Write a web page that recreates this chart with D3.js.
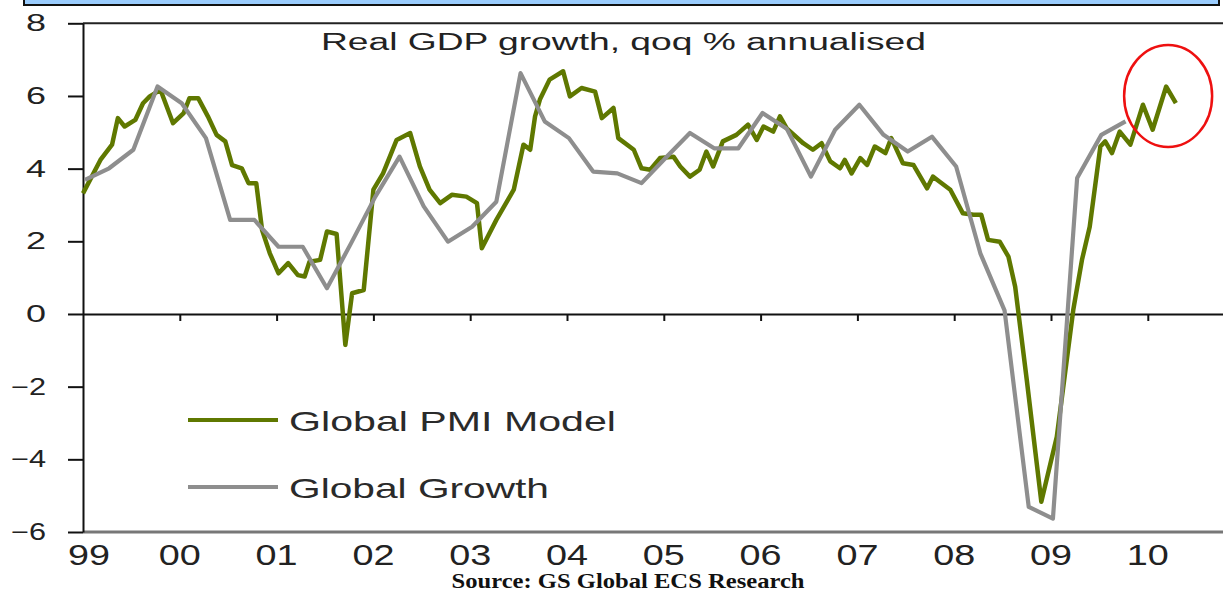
<!DOCTYPE html>
<html>
<head>
<meta charset="utf-8">
<script src="https://cdn.jsdelivr.net/npm/d3@7"></script>
<style>
  body { margin: 0; background: #fff; }
  svg { display: block; font-family: "Liberation Sans", Arial, sans-serif; }
</style>
</head>
<body>
<div id="chart"></div>
<script>

// Data

// Global PMI Model, monthly-ish vertices: decimal year / % qoq annualised
var pmiDates = [
  1999.00, 1999.18, 1999.30, 1999.36, 1999.43, 1999.54, 1999.62, 1999.69, 1999.80, 1999.93,
  2000.04, 2000.10, 2000.19, 2000.29, 2000.38, 2000.47, 2000.54, 2000.64, 2000.71, 2000.79,
  2000.85, 2000.93, 2001.02, 2001.12, 2001.22, 2001.29, 2001.34, 2001.45, 2001.52, 2001.62,
  2001.71, 2001.78, 2001.90, 2002.00, 2002.10, 2002.24, 2002.38, 2002.48, 2002.58, 2002.69,
  2002.81, 2002.96, 2003.07, 2003.12, 2003.27, 2003.45, 2003.55, 2003.62, 2003.67, 2003.72,
  2003.82, 2003.96, 2004.03, 2004.15, 2004.29, 2004.36, 2004.48, 2004.53, 2004.69, 2004.77,
  2004.86, 2004.96, 2005.10, 2005.17, 2005.27, 2005.37, 2005.44, 2005.51, 2005.61, 2005.75,
  2005.87, 2005.96, 2006.03, 2006.13, 2006.20, 2006.27, 2006.44, 2006.54, 2006.63, 2006.72,
  2006.82, 2006.87, 2006.94, 2007.03, 2007.10, 2007.18, 2007.29, 2007.35, 2007.47, 2007.58,
  2007.72, 2007.78, 2007.85, 2007.96, 2008.09, 2008.20, 2008.28, 2008.35, 2008.47, 2008.56,
  2008.63, 2008.75, 2008.90, 2009.06, 2009.23, 2009.32, 2009.40, 2009.51, 2009.56, 2009.63,
  2009.71, 2009.82, 2009.95, 2010.05, 2010.19, 2010.29
];
var pmiValues = [
  3.32, 4.24, 4.66, 5.39, 5.16, 5.34, 5.80, 5.99, 6.17, 5.25,
  5.53, 5.94, 5.94, 5.44, 4.93, 4.75, 4.10, 4.01, 3.60, 3.60,
  2.31, 1.67, 1.12, 1.40, 1.07, 1.03, 1.44, 1.49, 2.27, 2.20,
  -0.85, 0.57, 0.66, 3.42, 3.87, 4.79, 4.98, 4.06, 3.42, 3.05,
  3.28, 3.23, 3.05, 1.81, 2.59, 3.42, 4.66, 4.52, 5.44, 5.90,
  6.45, 6.68, 5.99, 6.22, 6.12, 5.39, 5.67, 4.84, 4.52, 4.01,
  3.97, 4.29, 4.33, 4.06, 3.78, 3.97, 4.47, 4.06, 4.75, 4.93,
  5.21, 4.79, 5.16, 5.02, 5.44, 5.11, 4.70, 4.52, 4.70, 4.20,
  4.01, 4.24, 3.87, 4.29, 4.10, 4.61, 4.43, 4.84, 4.15, 4.10,
  3.46, 3.78, 3.64, 3.42, 2.77, 2.73, 2.73, 2.04, 1.99, 1.58,
  0.75, -1.82, -5.17, -3.38, 0.11, 1.49, 2.40, 4.61, 4.75, 4.43,
  5.02, 4.66, 5.76, 5.07, 6.26, 5.80
];

// Global Growth, quarterly 1999Q1 .. 2009Q4
var growthValues = [
  3.69, 4.01, 4.52, 6.26,
  5.80, 4.84, 2.59, 2.59,
  1.85, 1.85, 0.71, 1.95,
  3.23, 4.33, 2.96, 1.99,
  2.40, 3.09, 6.63, 5.30,
  4.84, 3.92, 3.87, 3.60,
  4.30, 4.98, 4.56, 4.56,
  5.53, 5.10, 3.78, 5.07,
  5.76, 4.93, 4.47, 4.88,
  4.06, 1.67, 0.10, -5.31,
  -5.63, 3.74, 4.93, 5.30
];
var growthDates = growthValues.map(function(d, i) { return 1999.02 + i * 0.25; });

var yTicks = [-6, -4, -2, 0, 2, 4, 6, 8];
var yearTicks = [1999, 2000, 2001, 2002, 2003, 2004, 2005, 2006, 2007, 2008, 2009, 2010];
var yearLabels = ["99", "00", "01", "02", "03", "04", "05", "06", "07", "08", "09", "10"];

var seriesNames = ["Global PMI Model", "Global Growth"];
var seriesColors = ["#5f7800", "#8e8e8e"];

// Render chart

var width = 1223;
var height = 594;

var svg = d3.select("#chart").append("svg")
    .attr("width", width)
    .attr("height", height);

var x = d3.scaleLinear().domain([1999, 2011]).range([83, 1244.6]);
var y = d3.scaleLinear().domain([-6, 8]).range([532, 23.3]);

// header bar at the very top
svg.append("rect")
    .attr("x", 24).attr("y", -10)
    .attr("width", 1195).attr("height", 15)
    .attr("fill", "#9accfd")
    .attr("stroke", "#111").attr("stroke-width", 2);

// top frame line and bottom (-6) line
svg.append("line")
    .attr("x1", 83).attr("x2", width)
    .attr("y1", y(8)).attr("y2", y(8))
    .attr("stroke", "#222").attr("stroke-width", 2);

svg.append("line")
    .attr("x1", 83).attr("x2", width)
    .attr("y1", y(-6)).attr("y2", y(-6))
    .attr("stroke", "#777").attr("stroke-width", 3);

// y axis
var yAxis = svg.append("g")
    .attr("transform", "translate(83,0)")
    .call(d3.axisLeft(y).tickValues(yTicks).tickSize(15).tickSizeOuter(0).tickPadding(22));

yAxis.select(".domain").attr("stroke", "#111").attr("stroke-width", 2);
yAxis.selectAll(".tick line").attr("stroke", "#111").attr("stroke-width", 2);
yAxis.selectAll(".tick text")
    .attr("fill", "#222")
    .style("font-size", "23px")
    .style("font-family", "'Liberation Sans', Arial, sans-serif")
    .attr("textLength", function(d) { return d < 0 ? 35 : 20; })
    .attr("lengthAdjust", "spacingAndGlyphs");

// x axis sitting on the zero line
var xAxis = svg.append("g")
    .attr("transform", "translate(0," + y(0) + ")")
    .call(d3.axisBottom(x).tickValues(yearTicks.slice(1)).tickSize(7).tickSizeOuter(0).tickFormat(""));

xAxis.select(".domain").attr("stroke", "#111").attr("stroke-width", 2);
xAxis.selectAll(".tick line").attr("stroke", "#111").attr("stroke-width", 2);

// year labels under the chart
svg.append("g").selectAll("text")
    .data(yearTicks)
    .enter().append("text")
    .attr("x", function(d, i) { return x(d) + (i === 0 ? 6 : 0); })
    .attr("y", 565)
    .attr("text-anchor", "middle")
    .attr("fill", "#222")
    .style("font-size", "29px")
    .attr("textLength", 42)
    .attr("lengthAdjust", "spacingAndGlyphs")
    .text(function(d, i) { return yearLabels[i]; });

// title inside plot
svg.append("text")
    .attr("x", 321).attr("y", 50)
    .attr("fill", "#222")
    .style("font-size", "23px")
    .attr("textLength", 605)
    .attr("lengthAdjust", "spacingAndGlyphs")
    .text("Real GDP growth, qoq % annualised");

// lines
var line = d3.line()
    .x(function(d) { return x(d[0]); })
    .y(function(d) { return y(d[1]); });

var pmiData = pmiDates.map(function(d, i) { return [d, pmiValues[i]]; });
var growthData = growthDates.map(function(d, i) { return [d, growthValues[i]]; });

svg.append("path")
    .attr("d", line(pmiData))
    .attr("fill", "none")
    .attr("stroke", seriesColors[0])
    .attr("stroke-width", 4.5)
    .attr("stroke-linejoin", "round");

svg.append("path")
    .attr("d", line(growthData))
    .attr("fill", "none")
    .attr("stroke", seriesColors[1])
    .attr("stroke-width", 4.2)
    .attr("stroke-linejoin", "round");

// legend
var legendY = [420, 487];
var legendLen = [327, 260];

var legend = svg.append("g").selectAll("g")
    .data(seriesNames)
    .enter().append("g");

legend.append("line")
    .attr("x1", 188).attr("x2", 278)
    .attr("y1", function(d, i) { return legendY[i]; })
    .attr("y2", function(d, i) { return legendY[i]; })
    .attr("stroke", function(d, i) { return seriesColors[i]; })
    .attr("stroke-width", 4);

legend.append("text")
    .attr("x", 289)
    .attr("y", function(d, i) { return legendY[i] + 11; })
    .attr("fill", "#2a2a2a")
    .style("font-size", "28px")
    .attr("textLength", function(d, i) { return legendLen[i]; })
    .attr("lengthAdjust", "spacingAndGlyphs")
    .text(function(d) { return d; });

// red circle around the latest readings
svg.append("ellipse")
    .attr("cx", x(2010.21)).attr("cy", y(6.0))
    .attr("rx", 44).attr("ry", 51)
    .attr("fill", "none")
    .attr("stroke", "#ee1010")
    .attr("stroke-width", 2.5);

// source
svg.append("text")
    .attr("x", 628).attr("y", 588)
    .attr("text-anchor", "middle")
    .attr("fill", "#111")
    .style("font-family", "'Liberation Serif', 'DejaVu Serif', serif")
    .style("font-weight", "bold")
    .style("font-size", "22px")
    .attr("textLength", 353)
    .attr("lengthAdjust", "spacingAndGlyphs")
    .text("Source: GS Global ECS Research");

</script>
</body>
</html>
